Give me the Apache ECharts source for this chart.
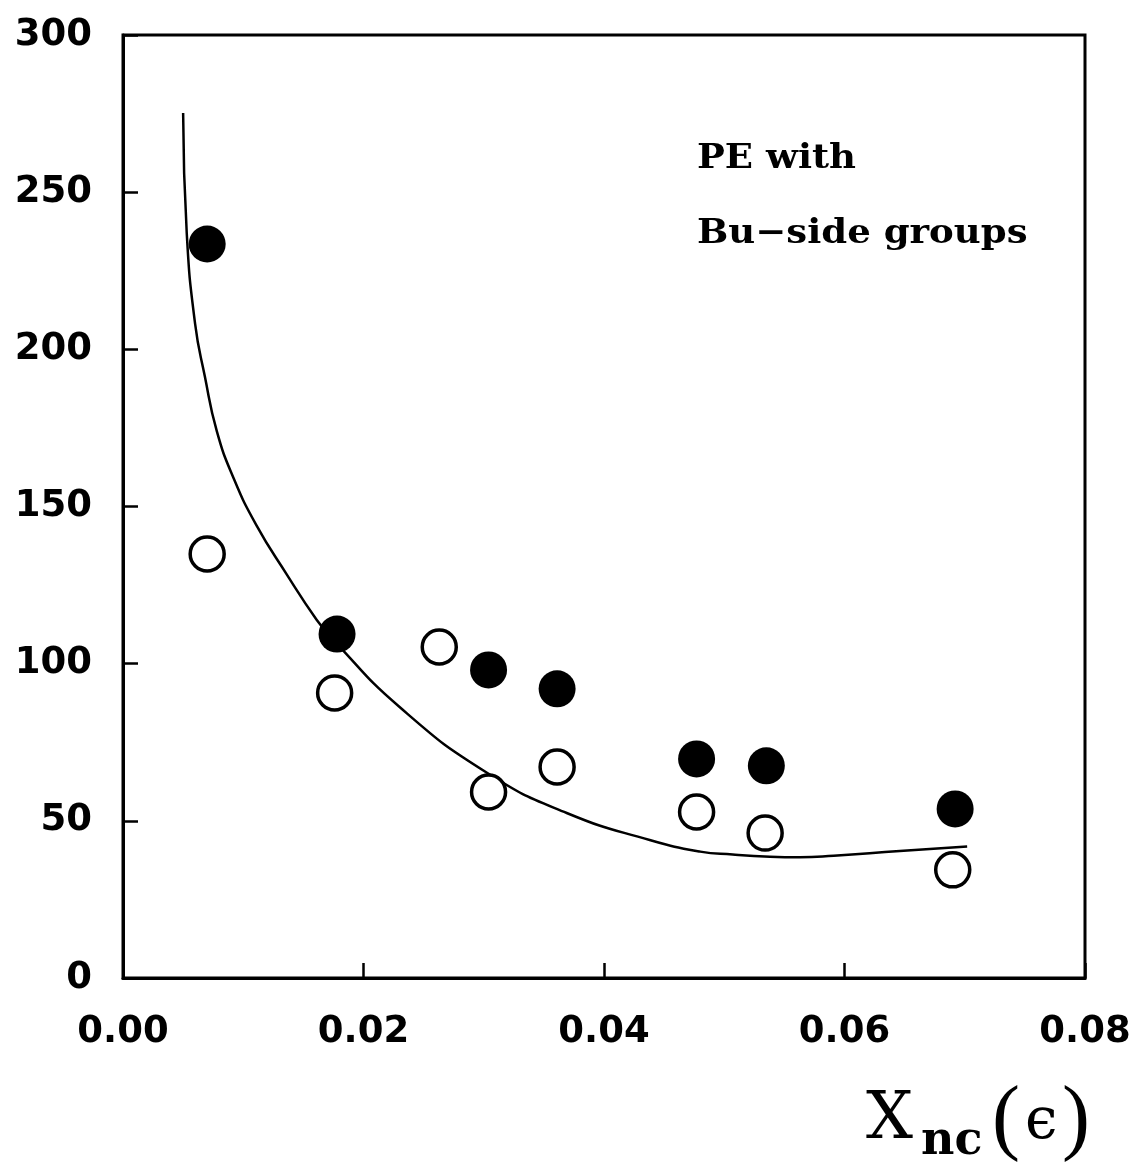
<!DOCTYPE html>
<html>
<head>
<meta charset="utf-8">
<script src="https://cdn.jsdelivr.net/npm/echarts@6/dist/echarts.min.js"></script>
<style>
html,body{margin:0;padding:0;background:#fff;}
#c{width:1139px;height:1165px;}
</style>
</head>
<body>
<div id="c"></div>
<script>
// Data
const filledX = [0.0070, 0.0178, 0.0304, 0.0361, 0.0477, 0.0535, 0.0692];
const filledY = [233.5, 109.4, 98.0, 92.0, 69.7, 67.5, 53.8];
const openX = [0.0070, 0.0176, 0.0263, 0.0304, 0.0361, 0.0477, 0.0534, 0.0690];
const openY = [134.9, 90.7, 105.3, 59.2, 67.1, 52.8, 46.1, 34.4];
const curveX = [0.0050, 0.0053, 0.0060, 0.0068, 0.0078, 0.0092, 0.0111, 0.0136, 0.0161, 0.0175, 0.0230, 0.0303, 0.0369, 0.0438, 0.0480, 0.0507, 0.0538, 0.0563, 0.0591, 0.0646, 0.0702];
const curveY = [275.2, 237.0, 208.0, 191.5, 174.0, 159.0, 144.0, 128.5, 114.0, 107.5, 86.2, 65.2, 52.5, 43.9, 40.2, 39.3, 38.6, 38.4, 38.9, 40.4, 41.8];
const xTickLabels = ['0.00', '0.02', '0.04', '0.06', '0.08'];
const yTickLabels = ['0', '50', '100', '150', '200', '250', '300'];
const annotation = ['PE with', 'Bu\u2212side groups'];

const zip = (a, b) => a.map((v, i) => [v, b[i]]);
const chart = echarts.init(document.getElementById('c'), null, {renderer: 'canvas'});
const tickFont = {fontFamily: 'DejaVu Sans', fontSize: 37, fontWeight: 'bold', color: '#000'};
chart.setOption({
  animation: false,
  backgroundColor: '#fff',
  grid: {left: 123, right: 54, top: 35, bottom: 187, show: true, borderColor: '#000', borderWidth: 3, backgroundColor: 'transparent'},
  xAxis: {
    type: 'value', min: 0, max: 0.08, interval: 0.02,
    axisLine: {show: true, lineStyle: {color: '#000', width: 3}},
    axisTick: {show: true, inside: true, length: 15, lineStyle: {color: '#000', width: 2.5}},
    splitLine: {show: false},
    axisLabel: Object.assign({margin: 36, formatter: (v) => xTickLabels[Math.round(v / 0.02)], showMinLabel: true, showMaxLabel: true}, tickFont)
  },
  yAxis: {
    type: 'value', min: 0, max: 300, interval: 50,
    axisLine: {show: true, lineStyle: {color: '#000', width: 3}},
    axisTick: {show: true, inside: true, length: 15, lineStyle: {color: '#000', width: 2.5}},
    splitLine: {show: false},
    axisLabel: Object.assign({margin: 31, formatter: (v) => yTickLabels[Math.round(v / 50)]}, tickFont)
  },
  series: [
    {type: 'line', data: zip(curveX, curveY), smooth: 0.5, showSymbol: false, symbol: 'none',
     lineStyle: {color: '#000', width: 2.5}, z: 2},
    {type: 'scatter', data: zip(openX, openY), symbol: 'circle', symbolSize: 34,
     itemStyle: {color: '#fff', borderColor: '#000', borderWidth: 3.5, opacity: 1}, z: 3},
    {type: 'scatter', data: zip(filledX, filledY), symbol: 'circle', symbolSize: 37,
     itemStyle: {color: '#000', opacity: 1}, z: 4}
  ],
  graphic: [
    {type: 'text', x: 697, y: 142, scaleX: 1.09, style: {text: annotation[0], font: 'bold 34px "DejaVu Serif"', fill: '#000', align: 'left', verticalAlign: 'top'}},
    {type: 'text', x: 697, y: 217, scaleX: 1.09, style: {text: annotation[1], font: 'bold 34px "DejaVu Serif"', fill: '#000', align: 'left', verticalAlign: 'top'}},
    {type: 'text', x: 866, y: 1088, style: {text: 'X', font: '66px "DejaVu Serif"', fill: '#000', align: 'left', verticalAlign: 'top'}},
    {type: 'text', x: 921, y: 1119, style: {text: 'nc', font: 'bold 46px "DejaVu Serif"', fill: '#000', align: 'left', verticalAlign: 'top'}},
    {type: 'text', x: 992, y: 1080, style: {text: '(', font: '84px "Liberation Serif"', fill: '#000', align: 'left', verticalAlign: 'top'}},
    {type: 'text', x: 1025, y: 1094, style: {text: '\u03f5', font: '58px "DejaVu Serif"', fill: '#000', align: 'left', verticalAlign: 'top'}},
    {type: 'text', x: 1062, y: 1080, style: {text: ')', font: '84px "Liberation Serif"', fill: '#000', align: 'left', verticalAlign: 'top'}}
  ]
});
</script>
</body>
</html>
